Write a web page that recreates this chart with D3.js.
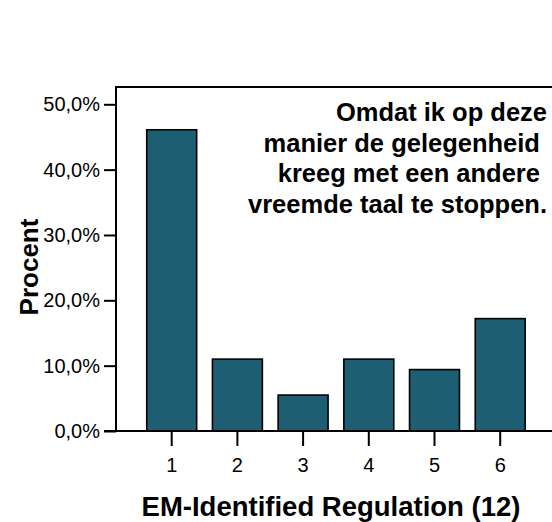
<!DOCTYPE html>
<html><head><meta charset="utf-8">
<script src="https://cdn.jsdelivr.net/npm/d3@7"></script>
<style>body{margin:0;background:#fff}text{font-family:"Liberation Sans",Arial,sans-serif;fill:#000}</style>
</head><body><svg id="c" width="552" height="522"></svg>
<script>
const categories = ["1","2","3","4","5","6"];
const values = [46.1, 11.0, 5.5, 11.0, 9.4, 17.2];
const yTicks = [0,10,20,30,40,50];
const yTickLabels = ["0,0%","10,0%","20,0%","30,0%","40,0%","50,0%"];
const annotation = ["Omdat ik op deze", "manier de gelegenheid ", "kreeg met een andere ", "vreemde taal te stoppen."];
const xTitle = "EM-Identified Regulation (12)";
const yTitle = "Procent";

const svg = d3.select("#c");
const left = 116, bottom = 431;
const x = d3.scaleBand().domain(categories).range([138.85, 533.05]).paddingInner(0.24).paddingOuter(0.12);
const y = d3.scaleLinear().domain([0,50]).range([bottom, 104.3]);
const topY = y(52.65);

// bars
svg.selectAll("rect.bar").data(values).enter().append("rect")
  .attr("x",(d,i)=>x(categories[i])).attr("width",x.bandwidth())
  .attr("y",d=>y(d)).attr("height",d=>bottom-y(d))
  .attr("fill","#1e5e73").attr("stroke","#000").attr("stroke-width",1.6);

// frame
svg.append("path").attr("d",`M${left},${bottom}V${topY}H560`).attr("fill","none").attr("stroke","#000").attr("stroke-width",2);
svg.append("path").attr("d",`M${left-12},${bottom}H560`).attr("fill","none").attr("stroke","#000").attr("stroke-width",2);

// y axis
const ya = svg.append("g").attr("transform",`translate(${left},0)`)
  .call(d3.axisLeft(y).tickValues(yTicks).tickSize(12).tickPadding(4).tickFormat((d,i)=>yTickLabels[i]));
ya.select(".domain").remove();
ya.selectAll("line").attr("stroke","#000").attr("stroke-width",2);
ya.selectAll("text").attr("font-size",20).attr("font-family","Liberation Sans, Arial, sans-serif").attr("fill","#000");

// x axis
const xa = svg.append("g").attr("transform",`translate(0,${bottom})`)
  .call(d3.axisBottom(x).tickSize(15).tickPadding(12));
xa.select(".domain").remove();
xa.selectAll("line").attr("stroke","#000").attr("stroke-width",2);
xa.selectAll("text").attr("font-size",20).attr("font-family","Liberation Sans, Arial, sans-serif").attr("fill","#000");

// titles
svg.append("text").attr("x",331).attr("y",516).attr("text-anchor","middle")
  .attr("font-size",27.5).attr("font-weight","bold").text(xTitle);
svg.append("text").attr("transform","translate(38,267) rotate(-90)").attr("text-anchor","middle")
  .attr("font-size",26).attr("font-weight","bold").text(yTitle);

// annotation
const ann = svg.append("text").attr("text-anchor","end").attr("font-size",25.5).attr("font-weight","bold")
  .style("white-space","pre");
annotation.forEach((l,i)=>ann.append("tspan").attr("x",547).attr("y",121+30.5*i).text(l));
</script></body></html>
